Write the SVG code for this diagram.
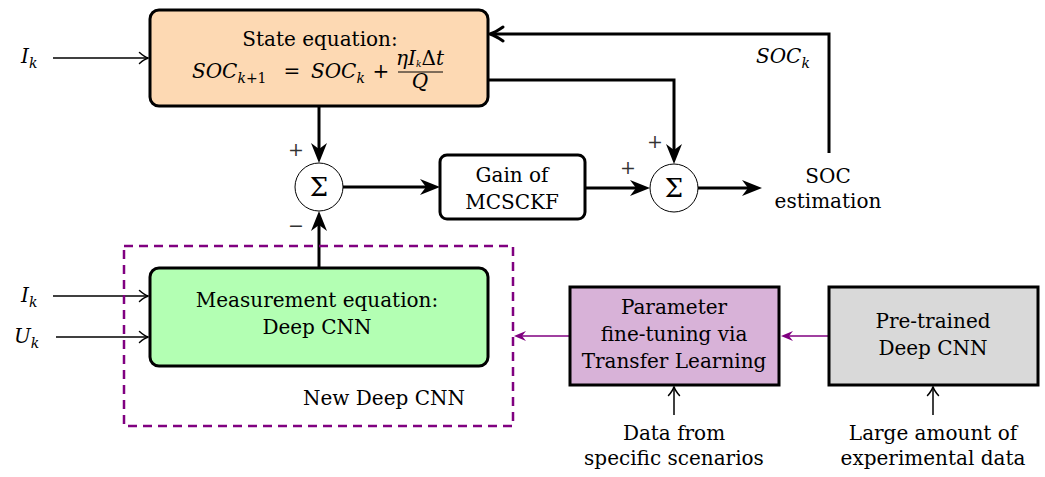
<svg xmlns="http://www.w3.org/2000/svg" width="1045" height="477" viewBox="0 0 1045 477">
  <defs>
    <style>
      text { font-family: "DejaVu Serif", "Liberation Serif", serif; fill: #000; }
      .t { font-size: 20px; text-anchor: middle; }
      .m { font-size: 20px; font-style: italic; }
      .sub { font-size: 14px; }
      .sign { font-size: 19px; fill: #333; text-anchor: middle; }
      .sigma { font-size: 26px; text-anchor: middle; }
      .thick { stroke: #000; stroke-width: 3; fill: none; }
      .thin { stroke: #000; stroke-width: 1.5; fill: none; }
      .purple { stroke: #800080; stroke-width: 1.5; fill: none; }
      .box { stroke: #000; stroke-width: 3; }
    </style>
    <marker id="stealth" markerUnits="userSpaceOnUse" markerWidth="24" markerHeight="20" viewBox="-22 -10 24 20" refX="-6" refY="0" orient="auto">
      <path d="M0,0 L-20,-8 L-14,0 L-20,8 Z" fill="#000"/>
    </marker>
    <marker id="barb" markerUnits="userSpaceOnUse" markerWidth="20" markerHeight="20" viewBox="-16 -10 20 20" refX="-1" refY="0" orient="auto">
      <path d="M-13,-7 Q-5,-1.5 0,0 Q-5,1.5 -13,7" stroke="#000" stroke-width="3" fill="none" stroke-linecap="round"/>
    </marker>
    <marker id="to" markerUnits="userSpaceOnUse" markerWidth="16" markerHeight="16" viewBox="-12 -8 16 16" refX="-0.5" refY="0" orient="auto">
      <path d="M-9,-5.5 Q-4,-1 0,0 Q-4,1 -9,5.5" stroke="#000" stroke-width="1.5" fill="none" stroke-linecap="round"/>
    </marker>
    <marker id="ptip" markerUnits="userSpaceOnUse" markerWidth="16" markerHeight="14" viewBox="-14 -7 16 14" refX="-3" refY="0" orient="auto">
      <path d="M0,0 L-12,-5 L-8,0 L-12,5 Z" fill="#800080"/>
    </marker>
  </defs>

  <!-- signal lines -->
  <g id="connectors">
    <!-- inputs -->
    <line class="thin" x1="53" y1="58" x2="148" y2="58" marker-end="url(#to)"/>
    <line class="thin" x1="53" y1="296" x2="148" y2="296" marker-end="url(#to)"/>
    <line class="thin" x1="56" y1="337" x2="148" y2="337" marker-end="url(#to)"/>
    <!-- state prediction to first summing junction -->
    <line class="thick" x1="319" y1="106" x2="319" y2="157" marker-end="url(#stealth)"/>
    <!-- measurement output to first summing junction -->
    <line class="thick" x1="319" y1="268" x2="319" y2="217" marker-end="url(#stealth)"/>
    <!-- innovation to gain -->
    <line class="thick" x1="343" y1="187" x2="434" y2="187" marker-end="url(#stealth)"/>
    <!-- gain to second summing junction -->
    <line class="thick" x1="585" y1="188" x2="644" y2="188" marker-end="url(#stealth)"/>
    <!-- state prediction to second summing junction -->
    <polyline class="thick" points="488,80 674,80 674,158" marker-end="url(#stealth)"/>
    <!-- output -->
    <line class="thick" x1="698" y1="188" x2="756" y2="188" marker-end="url(#stealth)"/>
    <!-- feedback of SOC_k -->
    <polyline class="thick" points="829,153 829,34 491,34" marker-end="url(#barb)"/>
    <!-- transfer learning chain -->
    <line class="purple" x1="569" y1="336" x2="517" y2="336" marker-end="url(#ptip)"/>
    <line class="purple" x1="828" y1="336" x2="784" y2="336" marker-end="url(#ptip)"/>
    <!-- data sources -->
    <line class="thin" x1="674" y1="415" x2="674" y2="387" marker-end="url(#to)"/>
    <line class="thin" x1="933" y1="415" x2="933" y2="387" marker-end="url(#to)"/>
  </g>

  <!-- input labels -->
  <g id="inputs">
    <text class="m" x="21" y="63">I<tspan class="sub" dy="5">k</tspan></text>
    <text class="m" x="21" y="302">I<tspan class="sub" dy="5">k</tspan></text>
    <text class="m" x="14" y="343">U<tspan class="sub" dy="5">k</tspan></text>
  </g>

  <g id="state-equation">
    <rect class="box" x="150" y="10" width="338" height="96" rx="9" fill="#FDD9B3"/>
    <text class="t" x="320" y="46">State equation:</text>
    <text class="m" x="192" y="78">SOC<tspan class="sub" dy="5">k</tspan><tspan class="sub" font-style="normal">+1</tspan></text>
    <text x="292" y="78" font-size="20" text-anchor="middle">=</text>
    <text class="m" x="311" y="78">SOC<tspan class="sub" dy="5">k</tspan></text>
    <text x="381" y="78" font-size="20" text-anchor="middle">+</text>
    <text class="m" x="420" y="65" font-size="13" text-anchor="middle">ηI<tspan dy="1.5" font-size="9">k</tspan><tspan dy="-1.5" font-style="normal">Δ</tspan>t</text>
    <line x1="398" y1="72" x2="443" y2="72" stroke="#000" stroke-width="1"/>
    <text class="m" x="420" y="88" font-size="13" text-anchor="middle">Q</text>
  </g>

  <g id="sum-1">
    <circle cx="319" cy="187" r="24" fill="#fff" stroke="#000" stroke-width="1"/>
    <text class="sigma" x="319" y="196">Σ</text>
    <text class="sign" x="296" y="156">+</text>
    <text class="sign" x="296" y="232">−</text>
  </g>

  <g id="gain">
    <rect class="box" x="440" y="155" width="145" height="64" rx="7" fill="#fff"/>
    <text class="t" x="512" y="182">Gain of</text>
    <text class="t" x="512" y="209">MCSCKF</text>
  </g>

  <g id="sum-2">
    <circle cx="674" cy="188" r="24" fill="#fff" stroke="#000" stroke-width="1"/>
    <text class="sigma" x="674" y="197">Σ</text>
    <text class="sign" x="655" y="148">+</text>
    <text class="sign" x="628" y="174">+</text>
  </g>

  <g id="soc-estimation">
    <text class="t" x="828" y="183">SOC</text>
    <text class="t" x="828" y="208">estimation</text>
    <text class="m" x="756" y="63">SOC<tspan class="sub" dy="5">k</tspan></text>
  </g>

  <g id="new-deep-cnn">
    <rect x="124" y="246" width="389" height="180" fill="none" stroke="#800080" stroke-width="2.5" stroke-dasharray="9 6"/>
    <text class="t" x="384" y="405">New Deep CNN</text>
  </g>

  <g id="measurement-equation">
    <rect class="box" x="150" y="268" width="338" height="98" rx="9" fill="#B3FFB3"/>
    <text class="t" x="317" y="307">Measurement equation:</text>
    <text class="t" x="317" y="334">Deep CNN</text>
  </g>

  <g id="fine-tuning">
    <rect class="box" x="570" y="287" width="209" height="98" fill="#D8B2D8"/>
    <text class="t" x="674" y="314">Parameter</text>
    <text class="t" x="674" y="341">fine-tuning via</text>
    <text class="t" x="674" y="368">Transfer Learning</text>
  </g>

  <g id="pretrained">
    <rect class="box" x="829" y="287" width="209" height="98" fill="#D9D9D9"/>
    <text class="t" x="933" y="328">Pre-trained</text>
    <text class="t" x="933" y="355">Deep CNN</text>
  </g>

  <g id="data-sources">
    <text class="t" x="674" y="440">Data from</text>
    <text class="t" x="674" y="465">specific scenarios</text>
    <text class="t" x="933" y="440">Large amount of</text>
    <text class="t" x="933" y="465">experimental data</text>
  </g>
</svg>
